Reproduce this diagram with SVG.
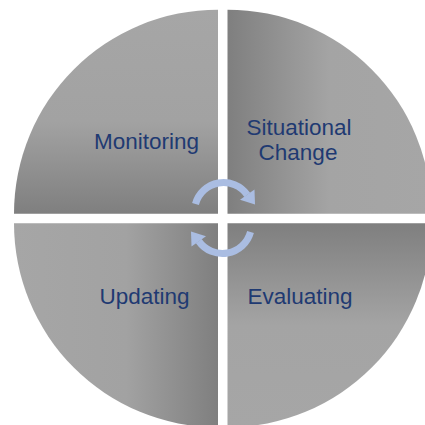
<svg xmlns="http://www.w3.org/2000/svg" width="425" height="425" viewBox="0 0 425 425">
<defs>
<style>
.lbl{font-family:"Liberation Sans",Arial,sans-serif;font-size:22.5px;fill:#1F3A72;text-anchor:middle}
.arc{fill:none;stroke:#AABDE2;stroke-width:7}
.head{fill:#AABDE2}
</style>
<linearGradient id="gTL" x1="0" y1="0" x2="0" y2="1">
<stop offset="0" stop-color="#a6a6a6"/><stop offset="0.55" stop-color="#a2a2a2"/><stop offset="1" stop-color="#7f7f7f"/>
</linearGradient>
<linearGradient id="gTR" x1="0" y1="0" x2="1" y2="0">
<stop offset="0" stop-color="#7f7f7f"/><stop offset="0.5" stop-color="#a4a4a4"/><stop offset="1" stop-color="#a6a6a6"/>
</linearGradient>
<linearGradient id="gBR" x1="0" y1="0" x2="0" y2="1">
<stop offset="0" stop-color="#7f7f7f"/><stop offset="0.5" stop-color="#a4a4a4"/><stop offset="1" stop-color="#a6a6a6"/>
</linearGradient>
<linearGradient id="gBL" x1="0" y1="0" x2="1" y2="0">
<stop offset="0" stop-color="#a6a6a6"/><stop offset="0.55" stop-color="#a2a2a2"/><stop offset="1" stop-color="#7f7f7f"/>
</linearGradient>
</defs>
<rect width="425" height="425" fill="#ffffff"/>
<g id="monitoring">
<path d="M218,213.7 L14,213.7 A204,204 0 0 1 218,9.7 Z" fill="url(#gTL)"/>
<text class="lbl" x="146.5" y="149">Monitoring</text>
</g>
<g id="situational-change">
<path d="M227.5,213.7 L227.5,9.7 A204,204 0 0 1 431.5,213.7 Z" fill="url(#gTR)"/>
<text class="lbl" x="299" y="135">Situational</text>
<text class="lbl" x="298" y="159.5">Change</text>
</g>
<g id="evaluating">
<path d="M227.5,223.3 L431.5,223.3 A204,204 0 0 1 227.5,427.3 Z" fill="url(#gBR)"/>
<text class="lbl" x="300" y="304">Evaluating</text>
</g>
<g id="updating">
<path d="M218,223.3 L218,427.3 A204,204 0 0 1 14,223.3 Z" fill="url(#gBL)"/>
<text class="lbl" x="144.5" y="304">Updating</text>
</g>
<g id="connectors">
<g id="arrow-top">
<path class="arc" d="M195.49,203.99 A29,29 0 0 1 247.26,194.87"/>
<polygon class="head" points="254.5,189.5 240,199.8 255,204.5"/>
</g>
<g id="arrow-bottom" transform="rotate(180 223 218)">
<path class="arc" d="M195.49,203.99 A29,29 0 0 1 247.26,194.87"/>
<polygon class="head" points="254.5,189.5 240,199.8 255,204.5"/>
</g>
</g>
</svg>
